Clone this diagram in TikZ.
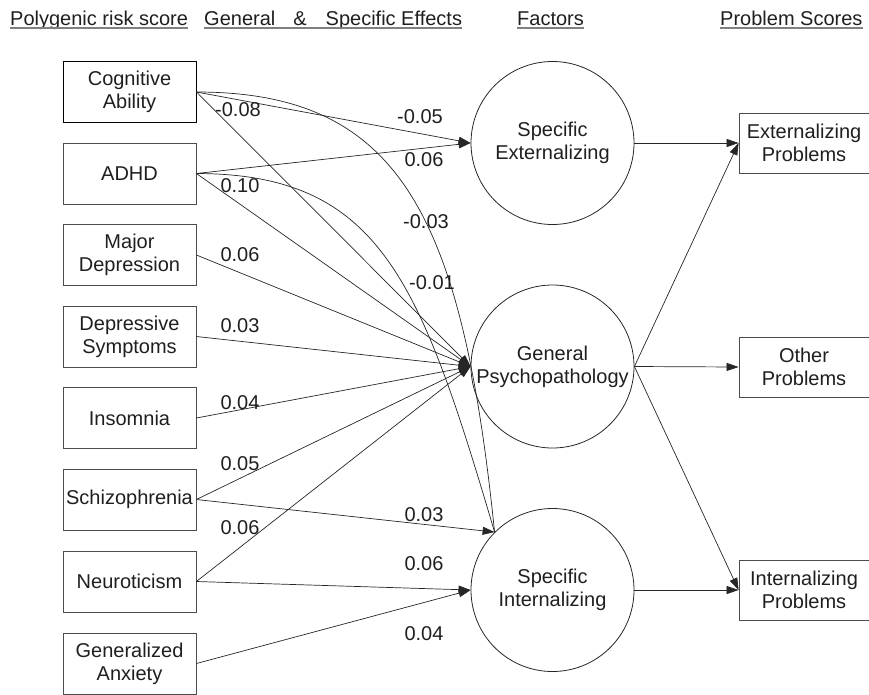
\documentclass[tikz,border=0pt]{standalone}
\usepackage{fontspec}
\setmainfont{Liberation Sans}
\usetikzlibrary{arrows.meta,calc}
\begin{document}
\begin{tikzpicture}[x=1pt,y=-1pt,
  every node/.style={font=\fontsize{20}{23}\selectfont, text=black!88},
  lbox/.style={draw=black!70, line width=0.8pt, minimum width=133pt, minimum height=61pt, inner sep=0pt, align=center},
  rbox/.style={draw=black!70, line width=0.8pt, minimum width=130pt, minimum height=60pt, inner sep=0pt, align=center},
  fac/.style={draw=black!85, line width=0.8pt, circle, minimum size=163pt, inner sep=0pt, align=center},
  con/.style={draw=black!85, line width=0.7pt},
  arr/.style={con, -{Triangle[length=12pt,width=8pt]}},
  coef/.style={inner sep=0pt},
  hdr/.style={anchor=base west, inner sep=0pt},
  uline/.style={draw=black!50, line width=1.6pt}]
\useasboundingbox (0,0) rectangle (869,694);

% headers
\node[hdr] (h1) at (10,25) {Polygenic risk score};
\node[hdr] (h2) at (204,25) {General\hspace{18pt}\&\hspace{19pt}Specific Effects};
\node[hdr] (h3) at (517,25) {Factors};
\node[hdr] (h4) at (720,25) {Problem Scores};
\foreach \h in {h1,h2,h3,h4}
  \draw[uline] ($(\h.base west)+(0,2.8)$) -- ($(\h.base east)+(0,2.8)$);

% left boxes
\node[lbox, draw=black, line width=1pt] (cog) at (129.5,92) {Cognitive\\Ability};
\node[lbox] (adhd) at (129.5,173.5) {ADHD};
\node[lbox] (md) at (129.5,255) {Major\\Depression};
\node[lbox] (ds) at (129.5,336.5) {Depressive\\Symptoms};
\node[lbox] (ins) at (129.5,418) {Insomnia};
\node[lbox] (sch) at (129.5,499.5) {Schizophrenia};
\node[lbox] (neu) at (129.5,581.5) {Neuroticism};
\node[lbox] (ga) at (129.5,663.5) {Generalized\\Anxiety};

% factors
\node[fac] (sext) at (552.5,143) {Specific\\Externalizing};
\node[fac] (gen) at (552.5,366.5) {General\\Psychopathology};
\node[fac] (sint) at (552.5,590) {Specific\\Internalizing};

% right boxes
\node[rbox] (extp) at (804,143) {Externalizing\\Problems};
\node[rbox] (oth) at (804,367) {Other\\Problems};
\node[rbox] (intp) at (804,590) {Internalizing\\Problems};

% connectors to specific externalizing
\draw[arr] (cog.east) -- (sext.west);
\draw[arr] (adhd.east) -- (sext.west);
% connectors to general
\foreach \n in {cog,adhd,md,ds,ins,sch,neu}
  \draw[arr] (\n.east) -- (gen.west);
% connectors to specific internalizing
\draw[con] (cog.east) .. controls (400,92) and (462,215) .. (sint.135);
\draw[con] (adhd.east) .. controls (380,174) and (420,280) .. (sint.135);
\draw[arr] (sch.east) -- (sint.135);
\draw[arr] (neu.east) -- (sint.west);
\draw[arr] (ga.east) -- (sint.west);
% factors to problems
\draw[arr] (sext.east) -- (extp.west);
\draw[arr] (gen.east) -- (extp.west);
\draw[arr] (gen.east) -- (oth.west);
\draw[arr] (gen.east) -- (intp.west);
\draw[arr] (sint.east) -- (intp.west);

% coefficients
\node[coef] (c1) at (238,110) {-0.08};
\node[coef] (c2) at (420,117) {-0.05};
\node[coef] (c3) at (424,160) {0.06};
\node[coef] (c4) at (240,186) {0.10};
\node[coef] (c5) at (426,222) {-0.03};
\node[coef] (c6) at (432,283) {-0.01};
\node[coef] (c7) at (240,255) {0.06};
\node[coef] (c8) at (240,326) {0.03};
\node[coef] (c9) at (240,403) {0.04};
\node[coef] (c10) at (240,464) {0.05};
\node[coef] (c11) at (424,515) {0.03};
\node[coef] (c12) at (240,528) {0.06};
\node[coef] (c13) at (424,564) {0.06};
\node[coef] (c14) at (424,634) {0.04};
\end{tikzpicture}
\end{document}
